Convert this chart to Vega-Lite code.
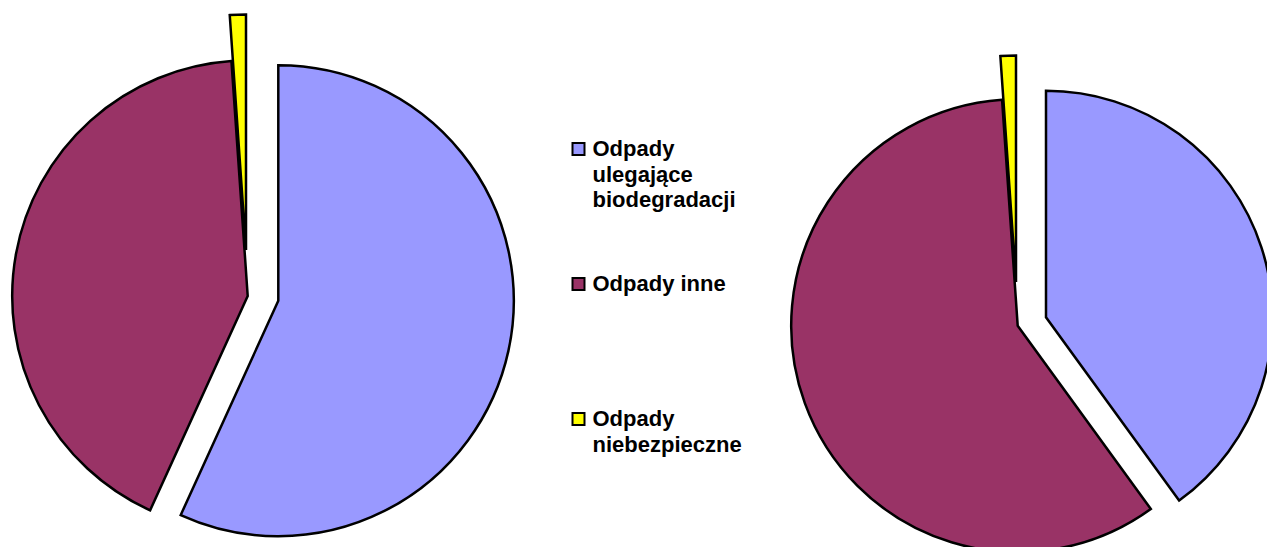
{
  "$schema": "https://vega.github.io/schema/vega-lite/v6.json",
  "width": 1267,
  "height": 547,
  "autosize": {"type": "fit", "contains": "padding"},
  "padding": 0,
  "background": "white",
  "config": {
    "view": {"stroke": null},
    "style": {"guide-label": {"lineHeight": 25.5}}
  },
  "data": {
    "values": [
      {"wykres": "A", "kategoria": "Odpady ulegające biodegradacji", "udzial": 56.8},
      {"wykres": "A", "kategoria": "Odpady inne", "udzial": 42.1},
      {"wykres": "A", "kategoria": "Odpady niebezpieczne", "udzial": 1.1},
      {"wykres": "B", "kategoria": "Odpady ulegające biodegradacji", "udzial": 40.0},
      {"wykres": "B", "kategoria": "Odpady inne", "udzial": 58.9},
      {"wykres": "B", "kategoria": "Odpady niebezpieczne", "udzial": 1.1}
    ]
  },
  "transform": [
    {"stack": "udzial", "groupby": ["wykres"], "offset": "normalize", "as": ["t0", "t1"]}
  ],
  "encoding": {
    "theta": {"field": "t0", "type": "quantitative", "stack": null, "scale": {"domain": [0, 1]}},
    "theta2": {"field": "t1"},
    "x": {"field": "wykres", "type": "nominal", "axis": null,
          "scale": {"type": "point", "domain": ["A", "B"], "range": [247.7, 1017.7], "padding": 0}},
    "y": {"field": "wykres", "type": "nominal", "axis": null,
          "scale": {"type": "point", "domain": ["A", "B"], "range": [296, 325.7], "padding": 0}},
    "color": {
      "field": "kategoria", "type": "nominal",
      "scale": {
        "domain": ["Odpady ulegające biodegradacji", "Odpady inne", "Odpady niebezpieczne"],
        "range": ["#9999FF", "#993366", "#FFFF00"]
      },
      "legend": {
        "orient": "none", "legendX": 567.5, "legendY": 138, "title": null,
        "padding": 0, "symbolType": "square", "symbolSize": 144,
        "symbolStrokeColor": "black", "symbolStrokeWidth": 2, "symbolOpacity": 1,
        "labelFont": "Liberation Sans", "labelFontWeight": "bold", "labelFontSize": 22,
        "labelColor": "black", "labelLimit": 400, "labelOffset": 3, "rowPadding": 62,
        "labelExpr": "datum.label == 'Odpady inne' ? [datum.label, ' ', ' '] : datum.label == 'Odpady niebezpieczne' ? ['Odpady', 'niebezpieczne', ' '] : split(datum.label, ' ')"
      }
    }
  },
  "layer": [
    {
      "transform": [{"filter": "datum.wykres == 'A' && datum.kategoria == 'Odpady inne'"}],
      "mark": {"type": "arc", "outerRadius": 235.5, "stroke": "black", "strokeWidth": 2.5, "strokeJoin": "miter"}
    },
    {
      "transform": [{"filter": "datum.wykres == 'A' && datum.kategoria == 'Odpady ulegające biodegradacji'"}],
      "mark": {"type": "arc", "outerRadius": 235.5, "stroke": "black", "strokeWidth": 2.5, "strokeJoin": "miter", "xOffset": 30.6, "yOffset": 4.7}
    },
    {
      "transform": [{"filter": "datum.wykres == 'A' && datum.kategoria == 'Odpady niebezpieczne'"}],
      "mark": {"type": "arc", "outerRadius": 235.5, "stroke": "black", "strokeWidth": 2.5, "strokeJoin": "miter", "xOffset": -1.7, "yOffset": -46}
    },
    {
      "transform": [{"filter": "datum.wykres == 'B' && datum.kategoria == 'Odpady inne'"}],
      "mark": {"type": "arc", "outerRadius": 226.5, "stroke": "black", "strokeWidth": 2.5, "strokeJoin": "miter"}
    },
    {
      "transform": [{"filter": "datum.wykres == 'B' && datum.kategoria == 'Odpady ulegające biodegradacji'"}],
      "mark": {"type": "arc", "outerRadius": 226.5, "stroke": "black", "strokeWidth": 2.5, "strokeJoin": "miter", "xOffset": 28.3, "yOffset": -8.4}
    },
    {
      "transform": [{"filter": "datum.wykres == 'B' && datum.kategoria == 'Odpady niebezpieczne'"}],
      "mark": {"type": "arc", "outerRadius": 226.5, "stroke": "black", "strokeWidth": 2.5, "strokeJoin": "miter", "xOffset": -1.7, "yOffset": -43.7}
    }
  ]
}
